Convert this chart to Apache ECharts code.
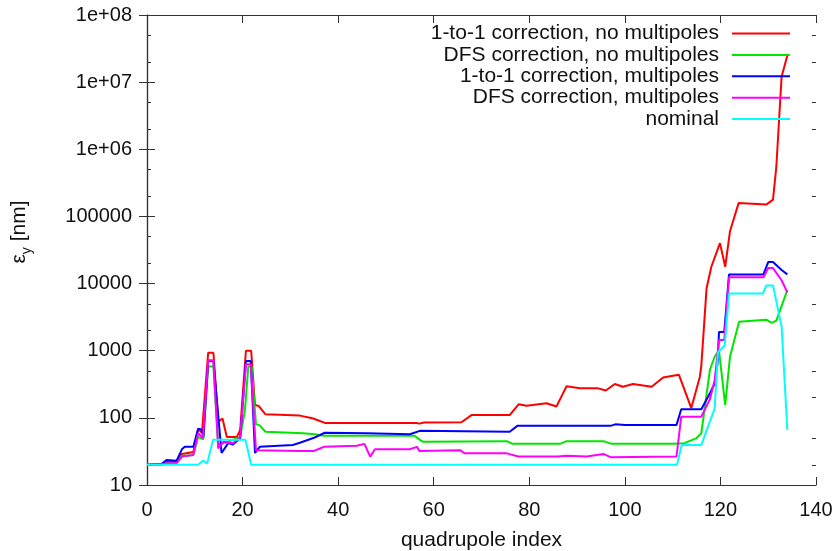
<!DOCTYPE html>
<html>
<head>
<meta charset="utf-8">
<style>
  html, body { margin: 0; padding: 0; background: #fff; }
  #chart { width: 839px; height: 551px; }
</style>
<script src="https://cdn.jsdelivr.net/npm/echarts@6/dist/echarts.min.js"></script>
</head>
<body>
<div id="chart"></div>
<script>
// [quadrupole index, emittance in nm]
const oneToOneNoMult = [
  [0, 20], [3, 20], [4, 22], [6, 22], [7.3, 29], [9.7, 31], [10.7, 68], [11.5, 60],
  [12.8, 930], [13.9, 930], [14.9, 88], [15.8, 98], [16.7, 52], [18.8, 52], [19.5, 66],
  [20.7, 1000], [21.8, 1000], [22.6, 155], [23.4, 150], [24.8, 113], [32, 108], [34.8, 98],
  [37.2, 84], [56.4, 84], [57, 82], [58, 85], [65.8, 86], [67.9, 110], [75.9, 110],
  [77.8, 160], [79.4, 152], [83.6, 165], [85.7, 148], [87.8, 295], [90.6, 275], [94.4, 275],
  [96, 256], [97.9, 320], [99.6, 290], [101.7, 320], [105.6, 290], [108, 400], [111.3, 440],
  [113.9, 140], [115.7, 410], [116, 600], [117.1, 8500], [118.1, 17800], [119.9, 40000],
  [121, 17800], [122, 60000], [123.8, 158000], [129.6, 150000], [131, 178000],
  [131.7, 550000], [132.8, 12000000], [134, 25000000]
];
const dfsNoMult = [
  [0, 20], [3, 20], [4, 21], [6, 21], [7.3, 27], [9.7, 28], [10.7, 52], [11.8, 48],
  [12.8, 580], [13.9, 580], [14.9, 40], [17, 44], [19.5, 52], [20.5, 130], [21.2, 580],
  [21.9, 580], [22.8, 80], [23.5, 78], [24.8, 62], [32.7, 59], [35.1, 57], [37, 54],
  [56, 54], [57.1, 47], [57.8, 44], [75.3, 45], [76.5, 41], [86.4, 41], [87.8, 45],
  [95.5, 45], [97.2, 41], [110, 41], [112.5, 42], [115, 50], [116, 59], [117.8, 520],
  [118.8, 820], [119.7, 1000], [121, 155], [122, 810], [123.9, 2700], [129.6, 2900],
  [130.7, 2600], [131.7, 2800], [134, 8000]
];
const oneToOneMult = [
  [0, 20], [3, 20.5], [4.1, 23.5], [6.2, 23], [7.3, 34], [7.9, 37], [9.7, 37], [10.7, 69],
  [11.4, 67], [11.8, 52], [12.8, 700], [13.9, 700], [15.6, 30], [17, 42], [18, 40],
  [19.5, 50], [20.7, 700], [21.7, 700], [22.6, 30], [23.6, 37], [30.5, 39.5], [32, 42.5],
  [35.1, 51], [37.2, 60], [46, 59], [55, 57], [57.1, 64], [75.9, 62], [77.5, 76], [97, 76],
  [98, 80], [100, 78], [110.8, 78], [111.8, 134], [116, 134], [117.8, 233], [118.8, 325],
  [119.4, 650], [119.7, 1900], [120.8, 1900], [121.8, 13700], [129, 13700], [130, 20900],
  [131, 20900], [132.8, 15900], [134, 13700]
];
const dfsMult = [
  [0, 20], [3, 20.3], [4.1, 21], [6.2, 21], [7.3, 26.5], [9.7, 28], [10.7, 59], [11.7, 50],
  [12.8, 720], [13.9, 720], [14.9, 35], [16, 44], [18, 42], [19.5, 52], [20.7, 630],
  [21.7, 630], [22.8, 33], [32, 32], [34.8, 32], [36.2, 35], [37, 37], [43.9, 38.5],
  [45.5, 41], [46.7, 26.5], [47.7, 34], [55, 34], [56.5, 37], [57, 32], [65.5, 33],
  [66.5, 29.6], [75.3, 29.6], [77.7, 26.5], [86, 26.5], [87.8, 27.3], [92, 26.5],
  [95.5, 29], [97, 26], [110.8, 26.5], [111.8, 104], [116, 104], [117.8, 190],
  [118.8, 365], [119.4, 910], [119.7, 1440], [120.8, 1440], [121.8, 12400], [129, 12400],
  [130, 17000], [131, 17000], [132.8, 11200], [134, 7400]
];
const nominal = [
  [0, 20], [10.7, 20], [11.7, 23], [12.6, 21], [13.8, 47], [20.6, 47], [21.8, 20],
  [110.9, 20], [111.9, 39.5], [116, 39.5], [118.8, 138], [119.1, 330], [119.5, 950],
  [120.9, 1200], [121.8, 7100], [128.9, 7100], [129.6, 9400], [131, 9400], [132.8, 2300],
  [134, 66]
];

const seriesNames = [
  "1-to-1 correction, no multipoles",
  "DFS correction, no multipoles",
  "1-to-1 correction, multipoles",
  "DFS correction, multipoles",
  "nominal",
];
const seriesData = [oneToOneNoMult, dfsNoMult, oneToOneMult, dfsMult, nominal];
const colors = ["#ff0000", "#00e600", "#0000ff", "#ff00ff", "#00ffff"];

const yTickLabels = ["10", "100", "1000", "10000", "100000", "1e+06", "1e+07", "1e+08"];
// minor ticks at 2x and 5x of every decade, as gnuplot drew them
const yMinorTicks = [20, 50, 200, 500, 2e3, 5e3, 2e4, 5e4, 2e5, 5e5, 2e6, 5e6, 2e7, 5e7];
const xTickMin = 0;
const xTickMax = 140;
const xTickStep = 20;

const font = "'Liberation Sans', Arial, sans-serif";
const ink = "#111";
const frame = "#333";

const chart = echarts.init(document.getElementById("chart"));

const tickCommon = {
  inside: true,
  length: 8,
  lineStyle: { color: frame, width: 1 },
};

const xBase = {
  type: "value",
  min: xTickMin,
  max: xTickMax,
  interval: xTickStep,
  splitLine: { show: false },
  axisLine: { show: true, onZero: false, lineStyle: { color: frame, width: 1.2 } },
  axisTick: tickCommon,
};

const yBase = {
  type: "log",
  logBase: 10,
  min: 10,
  max: 1e8,
  splitNumber: 7,
  splitLine: { show: false },
  axisLine: { show: true, lineStyle: { color: frame, width: 1.2 } },
  axisTick: tickCommon,
};

// overlay axes that only carry the short minor ticks
const yMinor = {
  type: "log",
  logBase: 10,
  min: 10,
  max: 1e8,
  splitLine: { show: false },
  axisLine: { show: false },
  axisLabel: { show: false },
  axisTick: { inside: true, length: 4, customValues: yMinorTicks, lineStyle: { color: frame, width: 1 } },
};

chart.setOption({
  animation: false,
  color: colors,
  grid: { left: 147, right: 23, top: 15, bottom: 66, containLabel: false, outerBoundsMode: "none" },
  legend: {
    orient: "vertical",
    right: 49,
    top: 23,
    align: "right",
    icon: "rect",
    itemWidth: 58,
    itemHeight: 2,
    itemGap: 0.4,
    padding: 0,
    textStyle: { fontFamily: font, fontSize: 21, lineHeight: 20, color: ink, padding: [0, 8, 0, 0] },
    data: seriesNames,
  },
  xAxis: [
    {
      ...xBase,
      position: "bottom",
      name: "quadrupole index",
      nameLocation: "middle",
      nameGap: 45,
      nameTextStyle: { fontFamily: font, fontSize: 21, color: ink },
      axisLabel: { fontFamily: font, fontSize: 20, color: ink, margin: 15 },
    },
    { ...xBase, position: "top", axisLabel: { show: false } },
  ],
  yAxis: [
    {
      ...yBase,
      position: "left",
      name: "{e|ε}{s|y}{e| [nm]}",
      nameLocation: "middle",
      nameGap: 113,
      nameTextStyle: {
        padding: [0, 0, 0, 36],
        rich: {
          e: { fontFamily: font, fontSize: 21, lineHeight: 30, color: ink },
          s: { fontFamily: font, fontSize: 14, lineHeight: 14, verticalAlign: "bottom", color: ink },
        },
      },
      axisLabel: {
        fontFamily: font,
        fontSize: 20,
        color: ink,
        margin: 15,
        formatter: (v) => yTickLabels[Math.round(Math.log10(v)) - 1] ?? "",
      },
    },
    { ...yBase, position: "right", axisLabel: { show: false } },
    { ...yMinor, position: "left" },
    { ...yMinor, position: "right" },
  ],
  series: seriesNames.map((name, i) => ({
    name,
    type: "line",
    xAxisIndex: 0,
    yAxisIndex: 0,
    data: seriesData[i],
    symbol: "none",
    showSymbol: false,
    lineStyle: { width: 2, color: colors[i] },
    itemStyle: { color: colors[i] },
  })),
});
</script>
</body>
</html>
